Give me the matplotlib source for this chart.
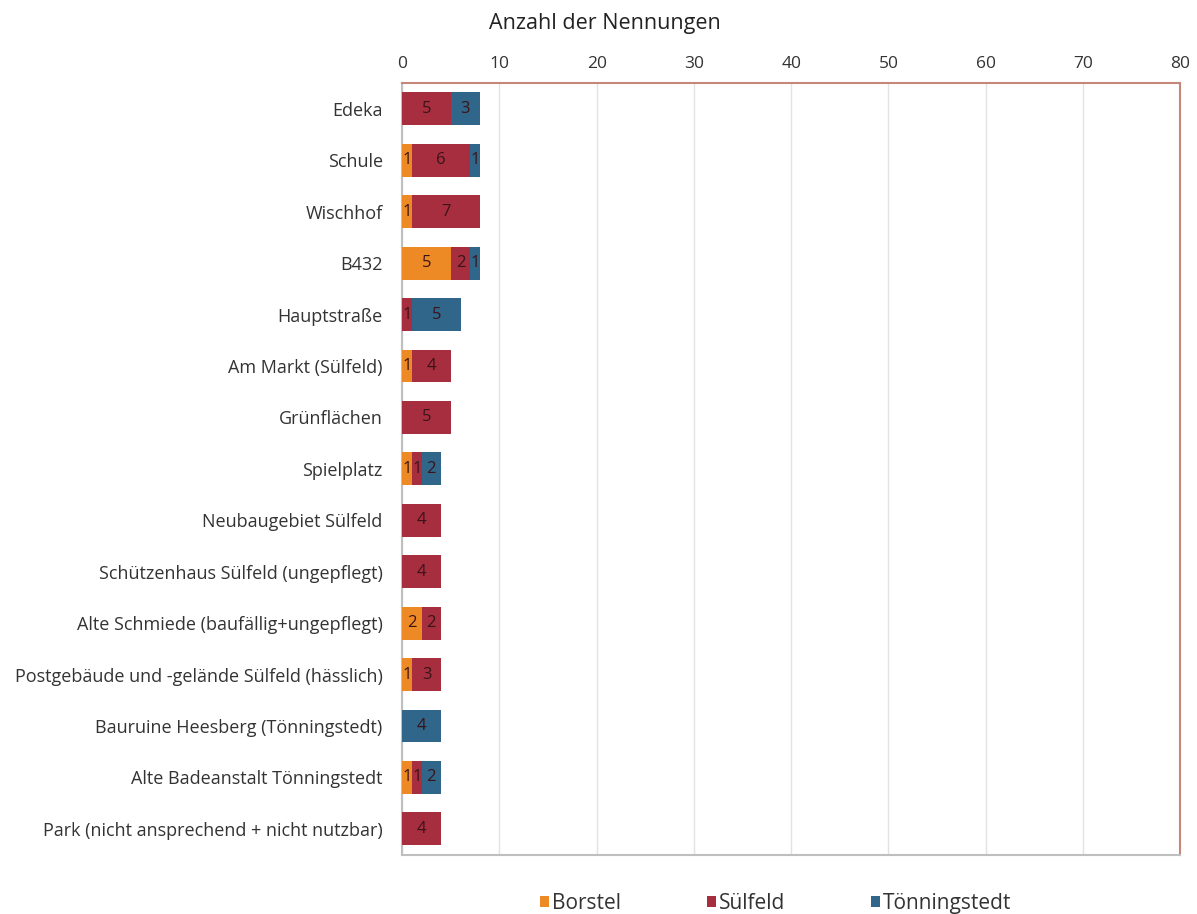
import numpy as np
import matplotlib
matplotlib.use("Agg")
import matplotlib.pyplot as plt

plt.rcParams['font.family'] = ['Open Sans', 'DejaVu Sans']

# Nennungen pro Ort, getrennt nach Ortsteil
orte = [
    "Edeka",
    "Schule",
    "Wischhof",
    "B432",
    "Hauptstraße",
    "Am Markt (Sülfeld)",
    "Grünflächen",
    "Spielplatz",
    "Neubaugebiet Sülfeld",
    "Schützenhaus Sülfeld (ungepflegt)",
    "Alte Schmiede (baufällig+ungepflegt)",
    "Postgebäude und -gelände Sülfeld (hässlich)",
    "Bauruine Heesberg (Tönningstedt)",
    "Alte Badeanstalt Tönningstedt",
    "Park (nicht ansprechend + nicht nutzbar)",
]
borstel =      [0, 1, 1, 5, 0, 1, 0, 1, 0, 0, 2, 1, 0, 1, 0]
suelfeld =     [5, 6, 7, 2, 1, 4, 5, 1, 4, 4, 2, 3, 0, 1, 4]
toenningstedt = [3, 1, 0, 1, 5, 0, 0, 2, 0, 0, 0, 0, 4, 2, 0]

serien = [("Borstel", borstel, "#EE8A25"),
          ("Sülfeld", suelfeld, "#A62E3F"),
          ("Tönningstedt", toenningstedt, "#2F6689")]

fig = plt.figure(figsize=(11.97, 9.14), dpi=100)
ax = fig.add_axes([0.336, 0.065, 0.650, 0.844])

y = np.arange(len(orte))
left = np.zeros(len(orte))
for name, werte, farbe in serien:
    werte = np.array(werte, dtype=float)
    ax.barh(y, werte, left=left, height=0.64, color=farbe, label=name,
            edgecolor="none", zorder=3)
    for yi, l, w in zip(y, left, werte):
        if w > 0:
            ax.text(l + w / 2, yi, "%d" % w, ha="center", va="center",
                    fontsize=12, color="#3a1418", zorder=4)
    left += werte

ax.set_xlim(0, 80)
ax.set_ylim(len(orte) - 0.5, -0.5)
ax.set_xticks(np.arange(0, 81, 10))
ax.xaxis.tick_top()
ax.xaxis.set_label_position("top")
ax.tick_params(axis="x", length=0, labelsize=12.5, colors="#333333", pad=8)
ax.tick_params(axis="y", length=0, labelsize=13, colors="#333333", pad=14)
ax.set_yticks(y)
ax.set_yticklabels(orte)
ax.set_xlabel("Anzahl der Nennungen", fontsize=15.5, color="#222222")
ax.xaxis.set_label_coords(0.26, 1.07)

ax.grid(axis="x", color="#e2e2e2", linewidth=1, zorder=0)
ax.set_axisbelow(True)
for s in ["top", "right"]:
    ax.spines[s].set_color("#C4877A")
    ax.spines[s].set_linewidth(1.5)
for s in ["left", "bottom"]:
    ax.spines[s].set_color("#bfbfbf")
    ax.spines[s].set_linewidth(1.5)

leg = fig.legend(loc="lower center", bbox_to_anchor=(0.648, -0.02), ncol=3,
                 frameon=False, fontsize=15, handlelength=0.45, handleheight=0.45,
                 handletextpad=0.15, columnspacing=4.1)
for t in leg.get_texts():
    t.set_color("#333333")

fig.savefig("out.png", dpi=100)
